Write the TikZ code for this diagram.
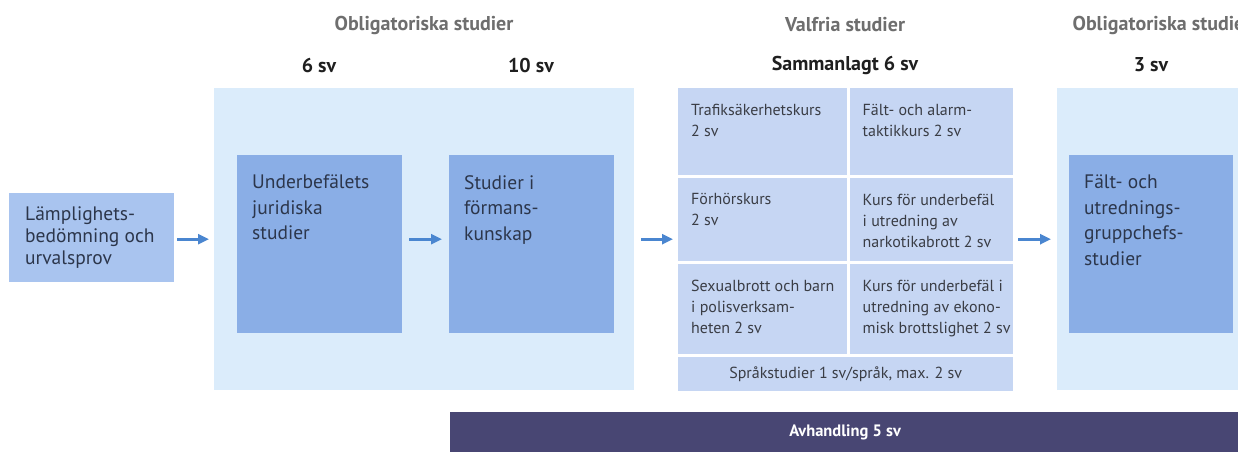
\documentclass[tikz,border=0pt]{standalone}
\usepackage{fontspec}
\setmainfont{PT Sans}
\usetikzlibrary{arrows.meta}
\definecolor{panelblue}{HTML}{DBECFB}
\definecolor{deepblue}{HTML}{8AAEE6}
\definecolor{lightbox}{HTML}{A9C4EF}
\definecolor{cellblue}{HTML}{C6D6F3}
\definecolor{arrowblue}{HTML}{4A86D0}
\definecolor{barviolet}{HTML}{484673}
\definecolor{headgrey}{HTML}{6E6E6E}
\definecolor{textnavy}{HTML}{2C364B}
\definecolor{textgrey}{HTML}{3A3D45}
\begin{document}
\begin{tikzpicture}[x=1pt,y=-1pt,
                    txt/.style = {anchor=north west, inner sep=0, align=left,
                                text=textnavy,
                                font=\fontsize{19.5}{25.5}\selectfont},
                    celltxt/.style = {anchor=north west, inner sep=0, align=left,
                                text=textgrey,
                                font=\fontsize{16}{21}\selectfont},
                    panel/.style = {fill=panelblue, anchor=north west, inner sep=0,
                                minimum height=302pt},
                    deep/.style = {fill=deepblue, anchor=north west, inner sep=0,
                                minimum width=165pt, minimum height=178pt,
                                label={[txt, xshift=15pt, yshift=-20pt]north west:{#1}}},
                    cell/.style = {fill=cellblue, anchor=north west, inner sep=0,
                                label={[celltxt, xshift=13pt, yshift=-16pt]north west:{#1}}},
                    head/.style = {text=headgrey, font=\bfseries\fontsize{20}{24}\selectfont},
                    num/.style = {text=black!88, font=\bfseries\fontsize{20}{24}\selectfont},
                    flow/.style = {draw=arrowblue, line width=2.6pt,
                                -{Triangle[length=11pt,width=10pt]}}]
                    \useasboundingbox (0,0) rectangle (1238,451);
                    \clip (0,0) rectangle (1238,451);
                    \fill[white] (0,0) rectangle (1238,451);
                    % Headings
                    \node[head] (hA) at (424,25) {Obligatoriska studier};
                    \node[head] (hB) at (845,25) {Valfria studier};
                    \node[head] (hC) at (1162,25) {Obligatoriska studier};
                    \node[num] (nA) at (319,65) {6 sv};
                    \node[num] (nB) at (531,65) {10 sv};
                    \node[num] (nC) at (845,65) {Sammanlagt 6 sv};
                    \node[num] (nD) at (1151,65) {3 sv};
                    % Entrance
                    \node[fill=lightbox, anchor=north west, inner sep=0,
                          minimum width=165pt, minimum height=89pt,
                          label={[txt, font=\fontsize{19.5}{22}\selectfont,
                                  xshift=16pt, yshift=-13pt]north west:{Lämplighets-\\bedömning och\\urvalsprov}}]
                          (lamp) at (9,193) {};
                    % Obligatory studies
                    \node[panel, minimum width=420pt] (panA) at (214,88) {};
                    \node[deep={Underbefälets\\juridiska\\studier}] (jur) at (237,155) {};
                    \node[deep={Studier i\\förmans-\\kunskap}] (form) at (449,155) {};
                    % Optional studies
                    \node[cell={Trafiksäkerhetskurs\\2 sv}, minimum width=168.5pt,
                          minimum height=86.5pt] (traf) at (678,88) {};
                    \node[cell={Fält- och alarm-\\taktikkurs 2 sv}, minimum width=163.5pt,
                          minimum height=86.5pt] (larm) at (849.5,88) {};
                    \node[cell={Förhörskurs\\2 sv}, minimum width=168.5pt,
                          minimum height=83.5pt] (forh) at (678,177.5) {};
                    \node[cell={Kurs för underbefäl\\i utredning av\\narkotikabrott 2 sv},
                          minimum width=163.5pt, minimum height=83.5pt] (narko) at (849.5,177.5) {};
                    \node[cell={Sexualbrott och barn\\i polisverksam-\\heten 2 sv},
                          minimum width=168.5pt, minimum height=89.5pt] (sexb) at (678,264) {};
                    \node[cell={Kurs för underbefäl i\\utredning av ekono-\\misk brottslighet 2 sv},
                          minimum width=163.5pt, minimum height=89.5pt] (ekon) at (849.5,264) {};
                    \node[cell={}, minimum width=335pt, minimum height=34.5pt,
                          font=\fontsize{16}{21}\selectfont, text=textgrey] (sprak) at (678,356.5)
                          {Språkstudier 1 sv/språk, max. 2 sv};
                    % Group leader studies
                    \node[panel, minimum width=212pt] (panC) at (1057,88) {};
                    \node[deep={Fält- och\\utrednings-\\gruppchefs-\\studier}, minimum width=164pt]
                          (grupp) at (1069,155) {};
                    % Thesis
                    \node[fill=barviolet, anchor=north west, inner sep=0,
                          minimum width=790pt, minimum height=40pt, text=white,
                          font=\bfseries\fontsize{16.5}{20}\selectfont] (avh) at (450,412)
                          {Avhandling 5 sv};
                    % Arrows
                    \draw[flow, shorten <=3pt, shorten >=5pt] (panA.west -| lamp.east) -- (panA.west);
                    \draw[flow, shorten <=7pt, shorten >=7pt] (panA.west -| jur.east) -- (panA.west -| form.west);
                    \draw[flow, shorten <=7pt, shorten >=5pt] (panA.east) -- (panA.east -| traf.west);
                    \draw[flow, shorten <=5pt, shorten >=6pt] (panA.east -| narko.east) -- (panA.east -| panC.west);
                \end{tikzpicture}
\end{document}
